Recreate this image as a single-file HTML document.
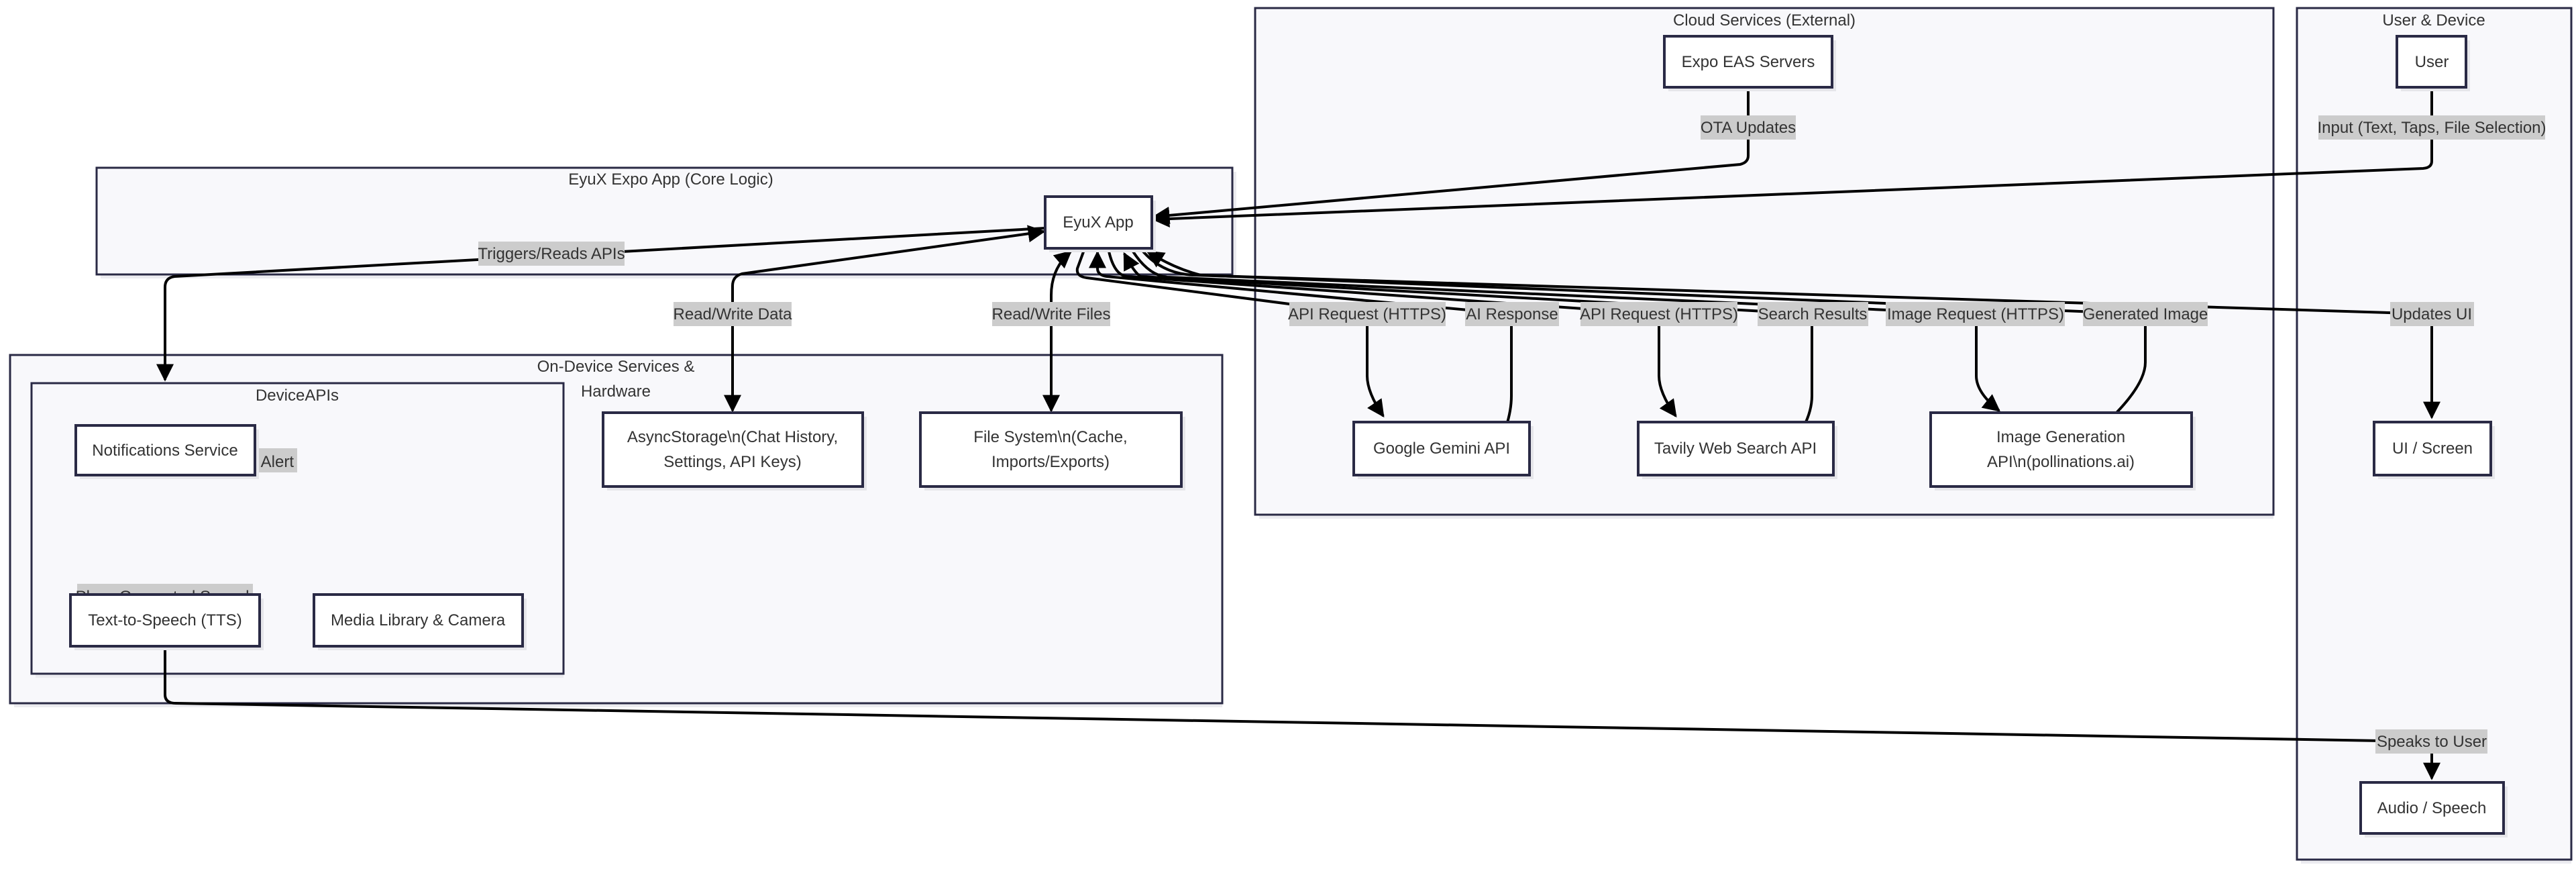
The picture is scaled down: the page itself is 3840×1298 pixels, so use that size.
<!DOCTYPE html>
<html><head><meta charset="utf-8"><style>
html,body{margin:0;padding:0;background:#fff}
svg text{font-family:"Liberation Sans",Arial,sans-serif;font-size:24px;fill:#333;}
</style></head><body>
<svg width="3840" height="1293" viewBox="0 0 3840 1293" xmlns="http://www.w3.org/2000/svg">
<defs>
<marker id="ah" viewBox="0 0 10 10" refX="9" refY="5" markerWidth="6.5" markerHeight="6.5" orient="auto-start-reverse" markerUnits="strokeWidth">
<path d="M0,0 L10,5 L0,10 z" fill="#000"/></marker>
</defs>
<g stroke="#2a2a45" stroke-width="3">
<rect x="150" y="256" width="1693" height="159" fill="#ececf0" stroke="none"/>
<rect x="144" y="250" width="1693" height="159" fill="#f8f8fb"/>
<rect x="21" y="535" width="1801" height="519" fill="#ececf0" stroke="none"/>
<rect x="15" y="529" width="1807" height="519" fill="#f8f8fb"/>
<rect x="53" y="577" width="787" height="433" fill="#ececf0" stroke="none"/>
<rect x="47" y="571" width="793" height="433" fill="#f8f8fb"/>
<rect x="1877" y="18" width="1512" height="755" fill="#ececf0" stroke="none"/>
<rect x="1871" y="12" width="1518" height="755" fill="#f8f8fb"/>
<rect x="3430" y="18" width="403" height="1269" fill="#ececf0" stroke="none"/>
<rect x="3424" y="12" width="409" height="1269" fill="#f8f8fb"/>
</g>
<g text-anchor="middle">
<text x="1000" y="275">EyuX Expo App (Core Logic)</text>
<text x="918" y="554">On-Device Services &amp;</text>
<text x="918" y="591">Hardware</text>
<text x="443" y="597">DeviceAPIs</text>
<text x="2630" y="38">Cloud Services (External)</text>
<text x="3628" y="38">User &amp; Device</text>
</g>
<rect x="366" y="668" width="77" height="36" fill="#ccc"/>
<text x="438" y="696" text-anchor="end">Sends Alert</text>
<rect x="115" y="870" width="262" height="36" fill="#ccc"/>
<text x="246" y="897" text-anchor="middle">Plays Generated Speech</text>

<g fill="none" stroke="#000" stroke-width="4">
<path d="M2606,130 L2606,232 Q2606,242 2594,245 L1720,323" marker-end="url(#ah)"/>
<path d="M3625,130 L3625,240 Q3625,250 3612,251 L1720,327" marker-end="url(#ah)"/>
<path d="M1558,340 L260,412 Q246,414 246,428 L246,566" marker-end="url(#ah)"/>
<path d="M1092,612 L1092,426 Q1092,412 1106,408 L1556,345" marker-start="url(#ah)" marker-end="url(#ah)"/>
<path d="M1567,612 L1567,440 Q1567,400 1596,375" marker-start="url(#ah)" marker-end="url(#ah)"/>
<path d="M1617,370 L1606,400 Q1604,412 1620,414 L2038,468 L2038,560 Q2038,585 2062,620" marker-end="url(#ah)"/>
<path d="M2210,706 Q2253,640 2253,590 L2253,468 L1650,412 Q1636,410 1636,400 L1636,376" marker-end="url(#ah)"/>
<path d="M1652,370 Q1660,410 1680,412 L2473,468 L2473,560 Q2473,585 2498,620" marker-end="url(#ah)"/>
<path d="M2634,706 Q2701,640 2701,590 L2701,468 L1700,412 Q1690,405 1676,378" marker-end="url(#ah)"/>
<path d="M1686,370 Q1710,410 1740,413 L2946,468 L2946,560 Q2946,585 2980,612" marker-end="url(#ah)"/>
<path d="M3155,615 Q3198,570 3198,540 L3198,468 L1790,410 Q1750,400 1711,375" marker-end="url(#ah)"/>
<path d="M1700,370 Q1730,408 1780,410 L3625,468 L3625,622" marker-end="url(#ah)"/>
<path d="M246,963 L246,1035 Q246,1048 262,1048 L3610,1105 Q3625,1106 3625,1120 L3625,1160" marker-end="url(#ah)"/>
</g>

<g text-anchor="middle">
<rect x="713" y="360" width="218" height="36" fill="#ccc"/><text x="822" y="386">Triggers/Reads APIs</text>
<rect x="1004" y="450" width="176" height="36" fill="#ccc"/><text x="1092" y="476">Read/Write Data</text>
<rect x="1479" y="450" width="176" height="36" fill="#ccc"/><text x="1567" y="476">Read/Write Files</text>
<rect x="2535" y="172" width="142" height="36" fill="#ccc"/><text x="2606" y="198">OTA Updates</text>
<rect x="3456" y="172" width="338" height="36" fill="#ccc"/><text x="3625" y="198">Input (Text, Taps, File Selection)</text>
<rect x="1922" y="450" width="233" height="36" fill="#ccc"/><text x="2038" y="476">API Request (HTTPS)</text>
<rect x="2184" y="450" width="140" height="36" fill="#ccc"/><text x="2254" y="476">AI Response</text>
<rect x="2356" y="450" width="234" height="36" fill="#ccc"/><text x="2473" y="476">API Request (HTTPS)</text>
<rect x="2620" y="450" width="165" height="36" fill="#ccc"/><text x="2702" y="476">Search Results</text>
<rect x="2811" y="450" width="267" height="36" fill="#ccc"/><text x="2945" y="476">Image Request (HTTPS)</text>
<rect x="3105" y="450" width="186" height="36" fill="#ccc"/><text x="3198" y="476">Generated Image</text>
<rect x="3563" y="450" width="125" height="36" fill="#ccc"/><text x="3625" y="476">Updates UI</text>
<rect x="3541" y="1087" width="167" height="36" fill="#ccc"/><text x="3625" y="1113">Speaks to User</text>
</g>

<g stroke="#2a2a45" stroke-width="4">
<g fill="#e6e6ea" stroke="none">
<rect x="1564" y="299" width="159" height="77"/>
<rect x="119" y="640" width="267" height="74"/>
<rect x="111" y="892" width="282" height="77"/>
<rect x="474" y="892" width="311" height="77"/>
<rect x="905" y="621" width="387" height="110"/>
<rect x="1378" y="621" width="389" height="110"/>
<rect x="2487" y="60" width="250" height="76"/>
<rect x="2024" y="635" width="262" height="79"/>
<rect x="2448" y="635" width="291" height="79"/>
<rect x="2884" y="621" width="389" height="110"/>
<rect x="3579" y="60" width="103" height="76"/>
<rect x="3545" y="635" width="174" height="79"/>
<rect x="3525" y="1172" width="213" height="76"/>
</g>
<g fill="#fff">
<rect x="1558" y="293" width="159" height="77"/>
<rect x="113" y="634" width="267" height="74"/>
<rect x="105" y="886" width="282" height="77"/>
<rect x="468" y="886" width="311" height="77"/>
<rect x="899" y="615" width="387" height="110"/>
<rect x="1372" y="615" width="389" height="110"/>
<rect x="2481" y="54" width="250" height="76"/>
<rect x="2018" y="629" width="262" height="79"/>
<rect x="2442" y="629" width="291" height="79"/>
<rect x="2878" y="615" width="389" height="110"/>
<rect x="3573" y="54" width="103" height="76"/>
<rect x="3539" y="629" width="174" height="79"/>
<rect x="3519" y="1166" width="213" height="76"/>
</g>
</g>
<g text-anchor="middle">
<text x="1637" y="339">EyuX App</text>
<text x="246" y="679">Notifications Service</text>
<text x="246" y="932">Text-to-Speech (TTS)</text>
<text x="623" y="932">Media Library &amp; Camera</text>
<text x="1092" y="659">AsyncStorage\n(Chat History,</text>
<text x="1092" y="696">Settings, API Keys)</text>
<text x="1566" y="659">File System\n(Cache,</text>
<text x="1566" y="696">Imports/Exports)</text>
<text x="2606" y="100">Expo EAS Servers</text>
<text x="2149" y="676">Google Gemini API</text>
<text x="2587" y="676">Tavily Web Search API</text>
<text x="3072" y="659">Image Generation</text>
<text x="3072" y="696">API\n(pollinations.ai)</text>
<text x="3625" y="100">User</text>
<text x="3626" y="676">UI / Screen</text>
<text x="3625" y="1212">Audio / Speech</text>
</g>
</svg>
</body></html>
